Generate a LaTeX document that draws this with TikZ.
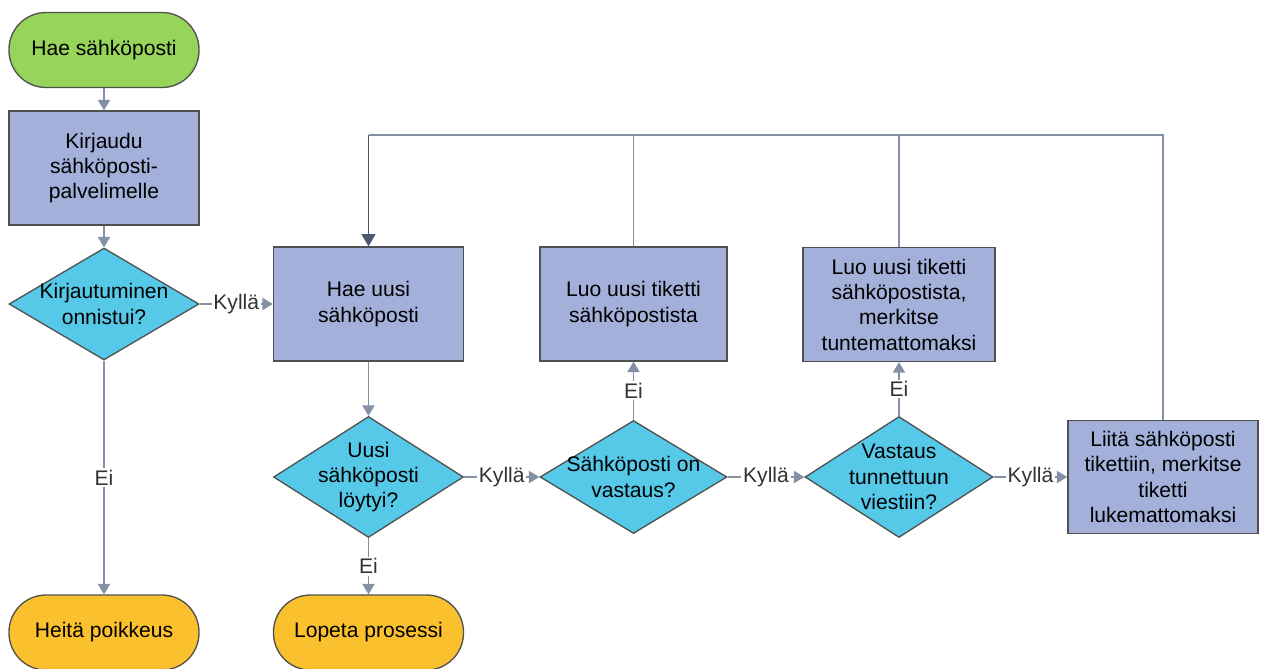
\documentclass[tikz,border=0pt]{standalone}
\usepackage{fontspec}
\setmainfont{Liberation Sans}
\usetikzlibrary{shapes.geometric,arrows.meta}

\definecolor{startgreen}{RGB}{150,212,90}
\definecolor{endorange}{RGB}{251,192,45}
\definecolor{stepblue}{RGB}{163,177,218}
\definecolor{askcyan}{RGB}{86,201,232}
\definecolor{rimgray}{RGB}{80,80,80}
\definecolor{wiregray}{RGB}{132,145,165}
\definecolor{loopgray}{RGB}{75,90,115}

\begin{document}
\begin{tikzpicture}[
    font=\fontsize{12pt}{14.4pt}\selectfont,
    terminal/.style={draw=rimgray, line width=0.75pt, rectangle, rounded corners=0.74cm,
        minimum width=3.8cm, minimum height=1.5cm, align=center},
    stepbox/.style={draw=rimgray, line width=0.75pt, rectangle, fill=stepblue,
        minimum width=3.8cm, minimum height=2.28cm, align=center},
    askbox/.style={draw=rimgray, line width=0.75pt, diamond, fill=askcyan, shape aspect=1.6,
        inner sep=-3.5pt, minimum width=3.8cm, minimum height=2.3cm, align=center},
    wire/.style={draw=wiregray, line width=0.9pt, -{Triangle[width=7pt,length=6pt]}},
    loopline/.style={draw=wiregray, line width=0.9pt},
    answer/.style={fill=white, inner sep=1pt, text=black!80},
]
    \useasboundingbox (0,0) rectangle (25.32,-13.36);

    \node[terminal, fill=startgreen] (start) at (2.08,-1.0) {Hae sähköposti};
    \node[stepbox] (login) at (2.08,-3.36) {Kirjaudu\\sähköposti-\\palvelimelle};
    \node[askbox, minimum height=2.24cm] (loginok) at (2.08,-6.08) {Kirjautuminen\\onnistui?};
    \node[terminal, fill=endorange] (error) at (2.08,-12.65) {Heitä poikkeus};

    \node[stepbox] (fetch) at (7.37,-6.08) {Hae uusi\\sähköposti};
    \node[askbox, minimum height=2.42cm] (found) at (7.37,-9.54) {Uusi\\sähköposti\\löytyi?};
    \node[terminal, fill=endorange] (finish) at (7.37,-12.65) {Lopeta prosessi};

    \node[stepbox, minimum width=3.74cm] (newticket) at (12.67,-6.08) {Luo uusi tiketti\\sähköpostista};
    \node[askbox, minimum width=3.74cm, minimum height=2.26cm] (isreply) at (12.67,-9.54) {Sähköposti on\\vastaus?};

    \node[stepbox, minimum width=3.84cm] (unknown) at (17.98,-6.09) {Luo uusi tiketti\\sähköpostista,\\merkitse\\tuntemattomaksi};
    \node[askbox, minimum width=3.76cm, minimum height=2.42cm] (known) at (17.98,-9.54) {Vastaus\\tunnettuun\\viestiin?};

    \node[stepbox, minimum height=2.26cm] (attach) at (23.26,-9.54) {Liitä sähköposti\\tikettiin, merkitse\\tiketti\\lukemattomaksi};

    \coordinate (looptop) at (7.37,-2.7);

    \path[wire] (start) -- (login);
    \path[wire] (login) -- (loginok);
    \path[wire] (loginok) -- node[answer] {Kyllä} (fetch);
    \path[wire] (loginok) -- node[answer] {Ei} (error);
    \path[wire] (fetch) -- (found);
    \path[wire] (found) -- node[answer] {Ei} (finish);
    \path[wire] (found) -- node[answer] {Kyllä} (isreply);
    \path[wire] (isreply) -- node[answer] {Ei} (newticket);
    \path[wire] (isreply) -- node[answer] {Kyllä} (known);
    \path[wire] (known) -- node[answer] {Ei} (unknown);
    \path[wire] (known) -- node[answer] {Kyllä} (attach);

    % back to fetching the next message
    \path[loopline] (attach.north) |- (looptop);
    \path[loopline] (newticket.north) -- (newticket.north |- looptop);
    \path[loopline] (unknown.north) -- (unknown.north |- looptop);
    \path[draw=loopgray, line width=0.9pt, -{Triangle[width=8pt,length=7pt]}] (looptop) -- (fetch.north);
\end{tikzpicture}
\end{document}
